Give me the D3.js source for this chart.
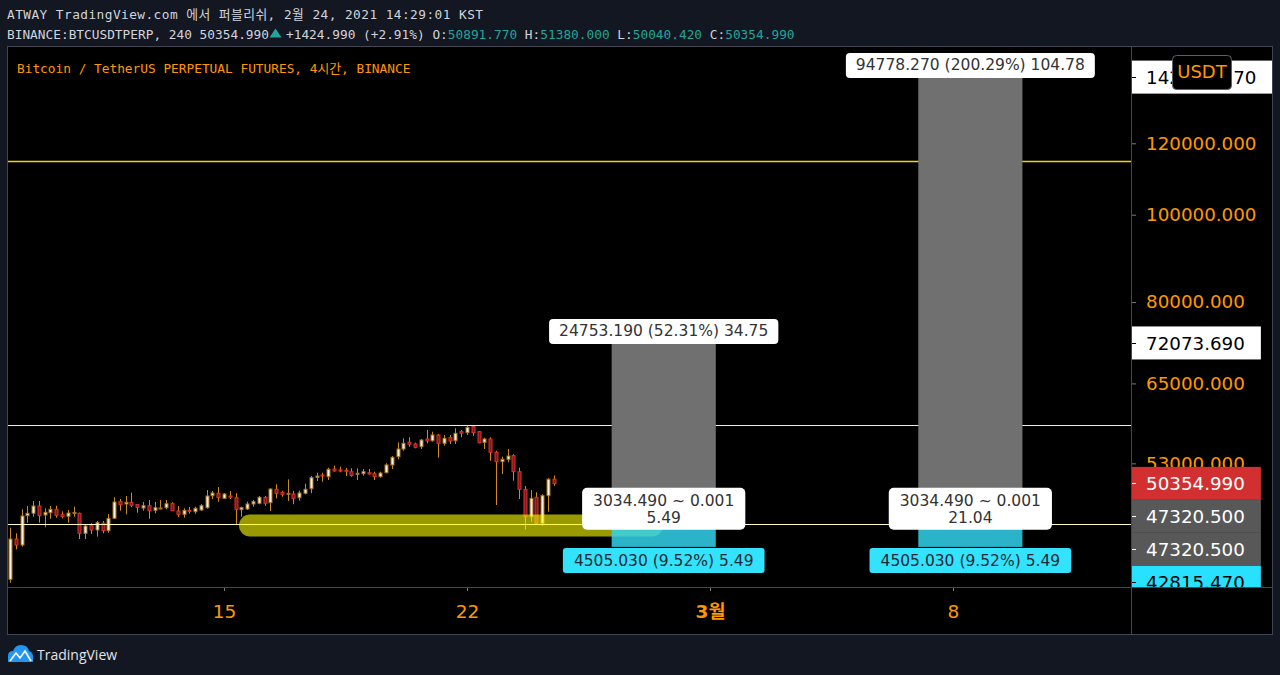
<!DOCTYPE html>
<html><head><meta charset="utf-8">
<script src="https://cdn.jsdelivr.net/npm/d3@7"></script>
<style>
html,body{margin:0;padding:0;background:#131722;overflow:hidden;}
svg{display:block;}
</style></head><body>
<svg id="c" width="1280" height="675"></svg>
<script>
// ---------------- data ----------------
const candleStart = Date.UTC(2021, 1, 8, 21); // first 4h bar (KST)
const candleStepHours = 4;
const opens  = [39414,43687,43025,46368,46653,47530,46451,46724,47129,46486,46297,46629,46653,44330,45199,44702,45477,44623,46060,48053,47774,47980,47689,47287,47567,47008,47251,47324,47810,46925,46534,47008,46842,47044,47324,48797,49097,48472,48760,48547,47080,47166,47774,47859,48597,47932,49599,49222,48972,49009,48547,49097,49675,51144,51446,51222,52238,52103,52064,51880,51538,51617,51748,51617,51222,51748,52777,53907,54976,55925,55684,55302,56397,56152,56979,55783,56586,56152,57459,57313,58199,57459,55925,56397,54516,53222,53548,54046,51880,49599,46249,48597,45477,48797,50891.77];
const highs  = [44968,44330,47129,47530,48138,48138,47251,47530,47567,46890,47044,47445,46724,45361,45477,45742,45742,46570,48597,48385,48760,49172,47720,48017,48260,48017,48260,48260,47980,47530,47251,47409,47445,47774,49509,49384,49893,49134,49384,49097,47445,48053,48260,48760,48760,49727,50239,49422,50881,49384,49422,50315,51314,51748,51748,52413,52683,52548,52373,52332,52332,52238,52238,51880,51880,53006,54004,55925,56499,56644,55869,56397,57707,57459,57124,56979,56979,57961,57707,58304,58450,57561,56586,56644,54737,53907,54976,54240,52413,50021,49509,49222,48972,51012,51380];
const lows   = [39075,42553,42838,45546,46249,45546,45014,46012,46131,46060,45546,46249,43687,43687,44251,43946,44330,44397,45977,46961,46534,47372,46724,46961,46012,46653,47129,47129,46925,46214,46131,46605,46605,46961,47202,48385,48053,48385,48385,45280,46249,47044,47445,47737,47567,46925,48472,48672,48138,47737,48175,48972,49097,50661,50571,50789,51880,51801,51314,51222,50789,51354,51538,50789,51091,51670,52238,53548,54737,55302,55075,54976,55783,56010,53769,55444,55684,55684,56644,56979,56833,55783,54976,53357,47652,51577,53141,50699,48385,44783,45661,45280,45164,46842,50040.42];
const closes = [43687,43025,46332,46653,47530,46368,46771,47129,46415,46249,46688,46748,44330,45164,44702,45546,44623,46060,48017,47689,47980,47616,47372,47567,46961,47324,47287,47810,46961,46534,47008,46890,47251,47567,48760,49134,48547,49009,48597,47129,47324,47774,48053,48597,47859,49637,49097,48972,49097,48472,49134,49599,51091,51314,51314,52197,51972,51972,51932,51406,51670,51880,51560,51222,51709,52777,53824,54976,55783,55642,55217,56251,56109,56979,55783,56499,56109,57226,57226,58096,57313,55869,56397,54516,53222,53548,54004,51880,49599,46249,48472,45477,48797,50891.77,50354.99];

const priceTicks = [53000, 65000, 80000, 100000, 120000];
const timeTicks = [Date.UTC(2021,1,15,1), Date.UTC(2021,1,22,1), Date.UTC(2021,2,1,1), Date.UTC(2021,2,8,1)];
const timeTickLabels = ["15", "22", "3월", "8"];

const hLinePrices = [114700, 58450, 45400];

const highlightTimes = [Date.UTC(2021,1,15,19), Date.UTC(2021,1,27,9)];
const highlightPrice = 45222;

const entryPrice = 47320.5;
const stopPrice = 42815.47;
const targetPrices = [72073.69, 142098.77];
const toolStarts = [Date.UTC(2021,1,26,5), Date.UTC(2021,2,7,1)];
const toolEnds   = [Date.UTC(2021,2,1,5), Date.UTC(2021,2,10,1)];
const targetLabels = ["24753.190 (52.31%) 34.75", "94778.270 (200.29%) 104.78"];
const entryLabelLine1 = ["3034.490 ~ 0.001", "3034.490 ~ 0.001"];
const entryLabelLine2 = ["5.49", "21.04"];
const stopLabels = ["4505.030 (9.52%) 5.49", "4505.030 (9.52%) 5.49"];

const axisLabelValues = [142098.77, 72073.69, 50354.99, 47320.5, 47320.5, 42815.47];

const lastClose = 50354.99, change = 1424.99, changePct = 2.91;
const ohlcLast = [50891.77, 51380.0, 50040.42, 50354.99];

// ---------------- layout ----------------
const svg = d3.select("#c");
const plot = {l: 8, r: 1131, t: 47, b: 587};
const axisRightEdge = 1272, timeAxisBottom = 634;
const MONO = "'DejaVu Sans Mono','Noto Sans CJK KR',monospace";
const SANS = "'DejaVu Sans','Noto Sans CJK KR',sans-serif";
const ORANGE = "#ff9800", TEAL = "#22a59a", LIGHT = "#d1d4dc", BORDER = "#434651";

const x = d3.scaleUtc()
  .domain([Date.UTC(2021,1,22,1), Date.UTC(2021,2,8,1)])
  .range([467, 953]);
const y = d3.scaleLog()
  .domain([38649, 153847])
  .range([plot.b, 46]);

// page background
svg.append("rect").attr("width",1280).attr("height",675).attr("fill","#131722");
svg.append("rect").attr("x",plot.l).attr("y",plot.t).attr("width",axisRightEdge-plot.l).attr("height",timeAxisBottom-plot.t).attr("fill","#000");

// header
svg.append("text").attr("x",7).attr("y",19).attr("font-family",MONO).attr("font-size",12.8)
  .attr("fill",LIGHT).attr("textLength",476).attr("lengthAdjust","spacing")
  .text("ATWAY TradingView.com 에서 퍼블리쉬, 2월 24, 2021 14:29:01 KST");

const fmt3 = d3.format(".3f");
svg.append("text").attr("x",7).attr("y",38.5).attr("font-family",MONO).attr("font-size",12.8)
  .attr("fill",LIGHT).text(`BINANCE:BTCUSDTPERP, 240 ${fmt3(lastClose)}`);
svg.append("path").attr("d","M269.5,37.5 L275.5,28.5 L281.5,37.5 Z").attr("fill",TEAL);
const l2 = svg.append("text").attr("x",286).attr("y",38.5).attr("font-family",MONO).attr("font-size",12.8).attr("fill",LIGHT);
l2.append("tspan").text(`+${fmt3(change)} (+${changePct.toFixed(2)}%) O:`);
const ohlcNames = ["O","H","L","C"];
ohlcLast.forEach((v,i)=>{
  if(i>0) l2.append("tspan").attr("fill",LIGHT).text(` ${ohlcNames[i]}:`);
  l2.append("tspan").attr("fill",TEAL).text(fmt3(v));
});

// clip
const defs = svg.append("defs");
defs.append("clipPath").attr("id","plotclip").append("rect")
  .attr("x",plot.l).attr("y",plot.t).attr("width",plot.r-plot.l).attr("height",plot.b-plot.t);
defs.append("clipPath").attr("id","axisclip").append("rect")
  .attr("x",plot.r).attr("y",plot.t).attr("width",axisRightEdge-plot.r).attr("height",plot.b-plot.t);

const g = svg.append("g").attr("clip-path","url(#plotclip)");

// title
svg.append("text").attr("x",17).attr("y",72.5).attr("font-family",MONO).attr("font-size",12.8)
  .attr("fill",ORANGE).text("Bitcoin / TetherUS PERPETUAL FUTURES, 4시간, BINANCE");

// candles
const candles = opens.map((o,i)=>({t: candleStart + i*candleStepHours*3600e3, o, h: highs[i], l: lows[i], c: closes[i]}));
const cg = g.append("g");
candles.forEach(d=>{
  const cx = Math.round(x(d.t));
  const bull = d.c >= d.o;
  cg.append("line").attr("x1",cx+0.5).attr("x2",cx+0.5)
    .attr("y1",y(d.h)).attr("y2",y(d.l))
    .attr("stroke", bull ? "#c98a1e" : "#d9891a").attr("stroke-width",1);
  const top = y(Math.max(d.o,d.c)), bot = y(Math.min(d.o,d.c));
  const h = Math.max(1, bot-top);
  cg.append("rect").attr("x",cx-1).attr("y",top).attr("width",3).attr("height",h)
    .attr("fill", bull ? "#f4f0e8" : "#7d1a1a")
    .attr("stroke", bull ? "#a8731e" : "#e03131").attr("stroke-width",1);
});

// horizontal lines
const hLineColors = ["#f2d600", "#fff59d", "#fff8c0"];
const hLineWidths = [1.6, 1, 1];
g.selectAll("line.hl").data(hLinePrices).enter().append("line")
  .attr("x1",plot.l).attr("x2",plot.r)
  .attr("y1",d=>Math.round(y(d))+0.5).attr("y2",d=>Math.round(y(d))+0.5)
  .attr("stroke",(d,i)=>hLineColors[i]).attr("stroke-width",(d,i)=>hLineWidths[i]);

// highlighter
g.append("line")
  .attr("x1",x(highlightTimes[0])).attr("x2",x(highlightTimes[1]))
  .attr("y1",y(highlightPrice)).attr("y2",y(highlightPrice))
  .attr("stroke","rgba(255,255,0,0.6)").attr("stroke-width",22).attr("stroke-linecap","round");

// position tools
const padX = 10;
targetPrices.forEach((tp,i)=>{
  const x0 = x(toolStarts[i]), x1 = x(toolEnds[i]), cx = (x0+x1)/2;
  const yT = y(tp), yE = y(entryPrice), yS = y(stopPrice);
  g.append("rect").attr("x",x0).attr("y",yT).attr("width",x1-x0).attr("height",yE-yT).attr("fill","#707070");
  g.append("rect").attr("x",x0).attr("y",yE).attr("width",x1-x0).attr("height",yS-yE).attr("fill","#33d3ec").attr("opacity",0.85);

  const tg = g.append("g");
  const tt = tg.append("text").attr("x",cx).attr("y",yT-7).attr("text-anchor","middle")
    .attr("font-family",SANS).attr("font-size",15.5).attr("fill","#333").text(targetLabels[i]);
  const tw = tt.node().getComputedTextLength();
  tg.insert("rect","text").attr("x",cx-tw/2-padX).attr("y",yT-24).attr("width",tw+2*padX).attr("height",25)
    .attr("rx",4).attr("fill","#fff");

  const eg = g.append("g");
  const e1 = eg.append("text").attr("x",cx).attr("y",yE-2).attr("text-anchor","middle")
    .attr("font-family",SANS).attr("font-size",15.5).attr("fill","#333").text(entryLabelLine1[i]);
  eg.append("text").attr("x",cx).attr("y",yE+15).attr("text-anchor","middle")
    .attr("font-family",SANS).attr("font-size",15.5).attr("fill","#333").text(entryLabelLine2[i]);
  const ew = e1.node().getComputedTextLength();
  eg.insert("rect","text").attr("x",cx-ew/2-11).attr("y",yE-20).attr("width",ew+22).attr("height",42)
    .attr("rx",5).attr("fill","#fff");

  const sg = g.append("g");
  const st = sg.append("text").attr("x",cx).attr("y",yS+19).attr("text-anchor","middle")
    .attr("font-family",SANS).attr("font-size",15.5).attr("fill","#1f2a33").text(stopLabels[i]);
  const sw = st.node().getComputedTextLength();
  sg.insert("rect","text").attr("x",cx-sw/2-padX-1).attr("y",yS+1).attr("width",sw+2*padX+2).attr("height",25)
    .attr("rx",3).attr("fill","#33e2fd");
});

// price axis
const yAxis = d3.axisRight(y).tickValues(priceTicks).tickFormat(d3.format(".3f")).tickSize(5).tickSizeOuter(0).tickPadding(10);
const ya = svg.append("g").attr("transform",`translate(${plot.r},0)`).call(yAxis);
ya.select(".domain").remove();
ya.selectAll(".tick line").attr("stroke","#787b86");
ya.selectAll(".tick text").attr("fill",ORANGE).attr("font-family",SANS).attr("font-size",18.3);

// price axis labels with collision push
const labelFills = ["#ffffff","#ffffff","#d23030","#585858","#585858","#28e1ff"];
const labelText  = ["#000000","#000000","#ffffff","#ffffff","#ffffff","#000000"];
const boxH = 33;
let prev = -Infinity;
const placed = axisLabelValues.map((v,i)=>({v,i,y:y(v)})).sort((a,b)=>a.y-b.y);
placed.forEach(p=>{ p.y = Math.max(p.y, prev + boxH); prev = p.y; });
const al = svg.append("g").attr("clip-path","url(#axisclip)");
placed.forEach(p=>{
  const lgp = al.append("g");
  const t = lgp.append("text").attr("x",plot.r+15).attr("y",p.y).attr("dy","0.36em")
    .attr("font-family",SANS).attr("font-size",18.3).attr("fill",labelText[p.i]).text(fmt3(p.v));
  const w = t.node().getComputedTextLength();
  lgp.insert("rect","text").attr("x",plot.r).attr("y",p.y-boxH/2).attr("width",w+31).attr("height",boxH).attr("fill",labelFills[p.i]);
  lgp.append("line").attr("x1",plot.r).attr("x2",plot.r+5).attr("y1",Math.round(p.y)+0.5).attr("y2",Math.round(p.y)+0.5)
    .attr("stroke",labelText[p.i]);
});

// USDT badge (covers the middle of the top label, as in the original)
svg.append("rect").attr("x",1172.5).attr("y",55.5).attr("width",59).attr("height",34).attr("rx",4)
  .attr("fill","#000").attr("stroke","#5d606b");
svg.append("text").attr("x",1202).attr("y",72).attr("dy","0.36em").attr("text-anchor","middle")
  .attr("font-family",SANS).attr("font-size",18).attr("fill",ORANGE).text("USDT");

// time axis
const xAxis = d3.axisBottom(x).tickValues(timeTicks).tickFormat((d,i)=>timeTickLabels[i]).tickSize(4).tickSizeOuter(0).tickPadding(14);
const xa = svg.append("g").attr("transform",`translate(0,${plot.b})`).call(xAxis);
xa.select(".domain").remove();
xa.selectAll(".tick line").attr("stroke","#787b86");
xa.selectAll(".tick text").attr("fill",ORANGE).attr("font-family",SANS).attr("font-size",18.5)
  .attr("font-weight",(d,i)=>i===2?"bold":"normal");

// panel borders
const bd = svg.append("g").attr("fill","none").attr("stroke",BORDER).attr("stroke-width",1).attr("shape-rendering","crispEdges");
bd.append("rect").attr("x",plot.l-0.5).attr("y",plot.t-0.5).attr("width",axisRightEdge-plot.l+1).attr("height",timeAxisBottom-plot.t+1);
bd.append("line").attr("x1",plot.r+0.5).attr("x2",plot.r+0.5).attr("y1",plot.t).attr("y2",timeAxisBottom);
bd.append("line").attr("x1",plot.l).attr("x2",axisRightEdge).attr("y1",plot.b+0.5).attr("y2",plot.b+0.5);

// footer logo
const lg = svg.append("g").attr("transform","translate(8,645)");
lg.append("path").attr("d","M0,17 L0,11 Q0,6 5,6 Q7,0 13,0 Q20,0 21,6 Q25,7 25,12 L25,17 Z").attr("fill","#2196f3");
lg.append("path").attr("d","M2,16 L8,8 L12,13 L17,6 L23,16").attr("fill","none").attr("stroke","#fff").attr("stroke-width",1.6);
svg.append("text").attr("x",37).attr("y",660).attr("font-family","'Open Sans',sans-serif").attr("font-size",14)
  .attr("fill","#e0e3eb").text("TradingView");
</script>
</body></html>
